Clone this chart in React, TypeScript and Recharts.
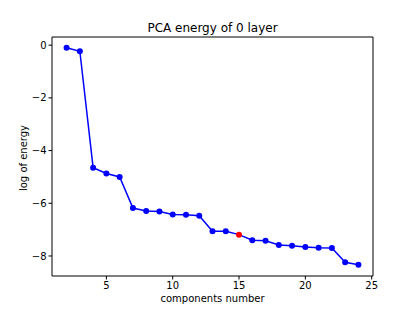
import { Line, LineChart, ReferenceArea, XAxis, YAxis } from "recharts";

const components = [2, 3, 4, 5, 6, 7, 8, 9, 10, 11, 12, 13, 14, 15, 16, 17, 18, 19, 20, 21, 22, 23, 24];
const logEnergy = [
  -0.1, -0.23, -4.65, -4.87, -5.0, -6.18, -6.29, -6.31, -6.43, -6.44, -6.47, -7.06, -7.06, -7.19, -7.4, -7.42,
  -7.58, -7.61, -7.66, -7.69, -7.7, -8.24, -8.33,
];
const highlighted = 15;
const xTicks = [5, 10, 15, 20, 25];
const yTicks = [0, -2, -4, -6, -8];
const xDomain = [0.9, 25.1];
const yDomain = [-8.76, 0.31];

const data = components.map((c, i) => ({ component: c, energy: logEnergy[i] }));

const font = "DejaVu Sans, sans-serif";
const tickStyle = { fill: "#000", fontSize: 10, fontFamily: font };
const minus = (v: number) => String(v).replace("-", "\u2212");

function Dot(props: any) {
  const { cx, cy, payload } = props;
  if (cx == null || cy == null) return null;
  const red = payload.component === highlighted;
  return <circle key={payload.component} cx={cx} cy={cy} r={3} fill={red ? "#ff0000" : "#0000ff"} stroke="none" />;
}

export default function App() {
  return (
    <div style={{ position: "absolute", top: 0, left: 0, width: 415, height: 311, background: "#fff" }}>
      <LineChart width={415} height={311} data={data} margin={{ top: 37, right: 42, bottom: 0, left: 12 }}>
        <XAxis
          dataKey="component"
          type="number"
          domain={xDomain}
          ticks={xTicks}
          height={35}
          tick={tickStyle}
          tickSize={3.5}
          tickLine={{ stroke: "#000" }}
          axisLine={false}
        />
        <YAxis
          type="number"
          domain={yDomain}
          ticks={yTicks}
          width={40}
          tick={tickStyle}
          tickSize={3.5}
          tickFormatter={minus}
          tickLine={{ stroke: "#000" }}
          axisLine={false}
        />
        <ReferenceArea
          x1={xDomain[0]}
          x2={xDomain[1]}
          y1={yDomain[0]}
          y2={yDomain[1]}
          fill="none"
          fillOpacity={0}
          stroke="#000"
          strokeWidth={1}
          ifOverflow="visible"
        />
        <Line
          dataKey="energy"
          stroke="#0000ff"
          strokeWidth={1.5}
          dot={<Dot />}
          activeDot={false}
          isAnimationActive={false}
        />
      </LineChart>
      <div
        style={{
          position: "absolute",
          top: 21,
          left: 52,
          width: 321,
          textAlign: "center",
          fontFamily: font,
          fontSize: 12,
          lineHeight: "14px",
          zIndex: 2,
        }}
      >
        PCA energy of 0 layer
      </div>
      <div
        style={{
          position: "absolute",
          top: 293,
          left: 52,
          width: 321,
          textAlign: "center",
          fontFamily: font,
          fontSize: 10,
          lineHeight: "12px",
          zIndex: 2,
        }}
      >
        components number
      </div>
      <div
        style={{
          position: "absolute",
          top: 158,
          left: 24,
          width: 0,
          height: 0,
          zIndex: 2,
        }}
      >
        <div
          style={{
            position: "absolute",
            transform: "translate(-50%, -50%) rotate(-90deg)",
            whiteSpace: "nowrap",
            fontFamily: font,
            fontSize: 10,
            lineHeight: "12px",
          }}
        >
          log of energy
        </div>
      </div>
    </div>
  );
}
